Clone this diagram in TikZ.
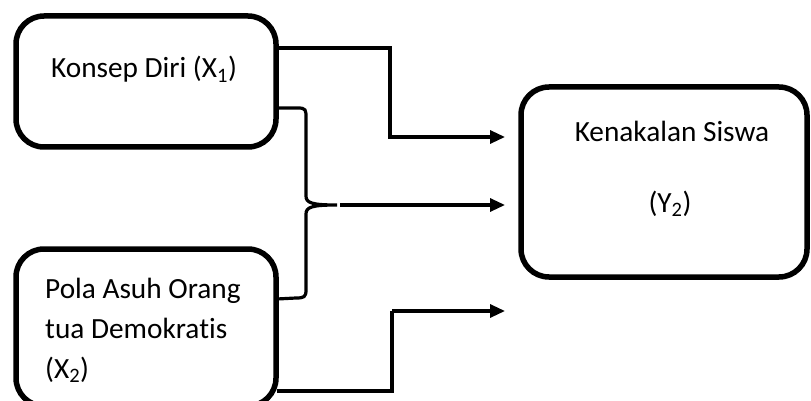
\documentclass[tikz,border=0pt]{standalone}
\usepackage{fontspec}
\setmainfont[Ligatures=NoCommon]{Carlito}
\usetikzlibrary{arrows.meta}
\begin{document}
\begin{tikzpicture}[x=1pt,y=-1pt,
  box/.style={draw,line width=5.5pt,rounded corners=28pt},
  conn/.style={line width=3.2pt},
  arr/.style={conn,-{Triangle[length=15pt,width=13pt]}},
  lbl/.style={font=\fontsize{29.3}{40}\selectfont,inner sep=0pt}]
\useasboundingbox (0,0) rectangle (811,401);
\begin{scope}
\clip (0,0) rectangle (811,401);
\draw[box] (16,16) rectangle (276,147);
\draw[box] (16,249) rectangle (276,406);
\draw[box] (521,87) rectangle (807,277);
\end{scope}
\node[lbl,anchor=base] (t1) at (144,78) {Konsep Diri (X\textsubscript{1})};
\node[lbl,anchor=base west] (t2a) at (45,298) {Pola Asuh Orang};
\node[lbl,anchor=base west] (t2b) at (45,338) {tua Demokratis};
\node[lbl,anchor=base west] (t2c) at (45,378) {(X\textsubscript{2})};
\node[lbl,anchor=base] (t3a) at (672,142) {Kenakalan Siswa};
\node[lbl,anchor=base] (t3b) at (670,212) {(Y\textsubscript{2})};
\coordinate (s1) at (277,48);
\coordinate (s1b) at (277,108);
\coordinate (s2) at (277,299);
\coordinate (s2b) at (277,391);
\coordinate (tip) at (337,205);
\coordinate (e1) at (505,137);
\coordinate (e2) at (505,205);
\coordinate (e3) at (505,311);
\draw[conn] (s1) -- (390,48) -- (390,137) -- (391,137);
\draw[arr] (390,137) -- (e1);
\draw[conn] (s1b) -- (298,108) .. controls (306,108) and (306,110) .. (306,118)
  -- (306,196) .. controls (306,203) and (312,205) .. (tip)
  .. controls (312,205) and (306,207) .. (306,214)
  -- (306,290) .. controls (306,297) and (304,298) .. (296,298) -- (s2);
\draw[arr] (340,205) -- (e2);
\draw[conn] (s2b) -- (392,391) -- (392,311);
\draw[arr] (392,311) -- (e3);
\end{tikzpicture}
\end{document}
